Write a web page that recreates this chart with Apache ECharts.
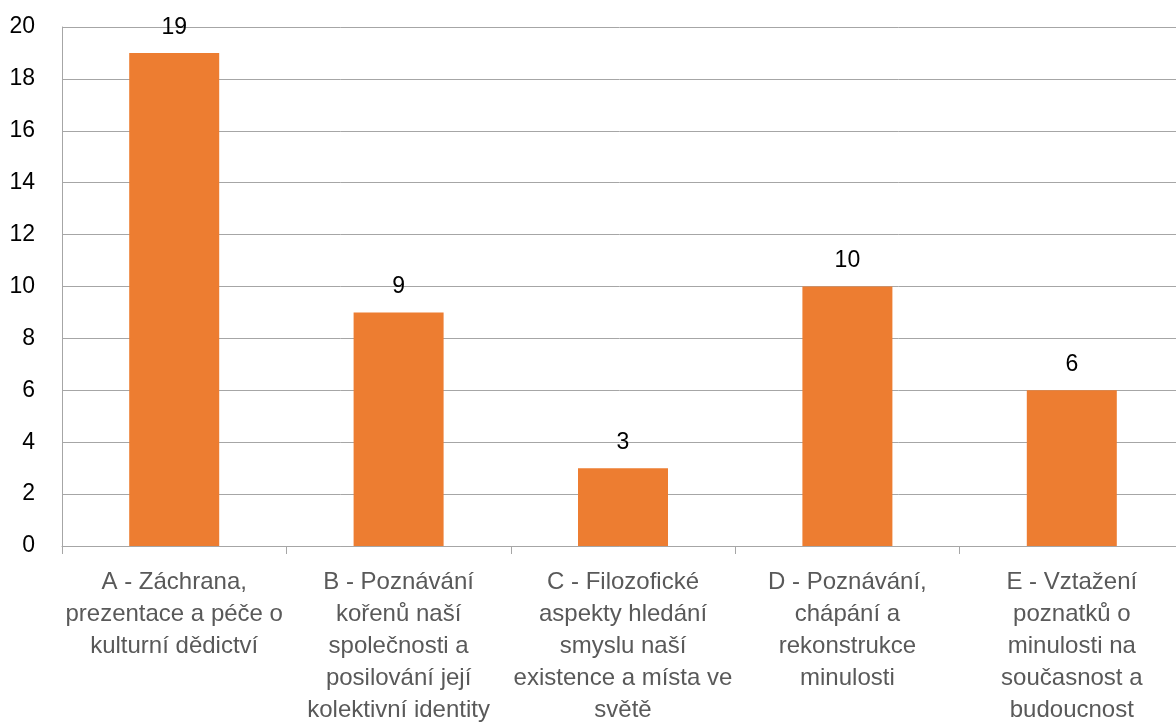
<!DOCTYPE html>
<html><head><meta charset="utf-8">
<script src="https://cdn.jsdelivr.net/npm/echarts@6/dist/echarts.min.js"></script>
<style>html,body{margin:0;padding:0;background:#fff;overflow:hidden}#c{width:1176px;height:722px}</style>
</head><body><div id="c"></div>
<script>
const categories = [
  "A - Záchrana,\nprezentace a péče o\nkulturní dědictví",
  "B - Poznávání\nkořenů naší\nspolečnosti a\nposilování její\nkolektivní identity",
  "C - Filozofické\naspekty hledání\nsmyslu naší\nexistence a místa ve\nsvětě",
  "D - Poznávání,\nchápání a\nrekonstrukce\nminulosti",
  "E - Vztažení\npoznatků o\nminulosti na\nsoučasnost a\nbudoucnost"
];
const values = [19, 9, 3, 10, 6];
const font = "Liberation Sans";
const chart = echarts.init(document.getElementById('c'));
chart.setOption({
  animation: false,
  grid: {left: 62, width: 1122, top: 27, height: 519, containLabel: false, outerBoundsMode: 'none'},
  xAxis: {
    type: 'category', data: categories,
    axisLine: {lineStyle: {color: '#a6a6a6', width: 1}},
    axisTick: {show: true, length: 8, lineStyle: {color: '#a6a6a6'}},
    axisLabel: {color: '#595959', fontFamily: font, fontSize: 24, lineHeight: 32, margin: 20, interval: 0}
  },
  yAxis: {
    type: 'value', min: 0, max: 20, interval: 2,
    axisLine: {show: true, lineStyle: {color: '#a6a6a6'}},
    splitLine: {lineStyle: {color: '#a6a6a6', width: 1}},
    axisLabel: {color: '#000', fontFamily: font, fontSize: 23, margin: 27}
  },
  series: [{
    type: 'bar', data: values, barWidth: 90,
    itemStyle: {color: '#ed7d31'},
    label: {show: true, position: 'top', distance: 14, color: '#000', fontFamily: font, fontSize: 23}
  }]
});
</script></body></html>
